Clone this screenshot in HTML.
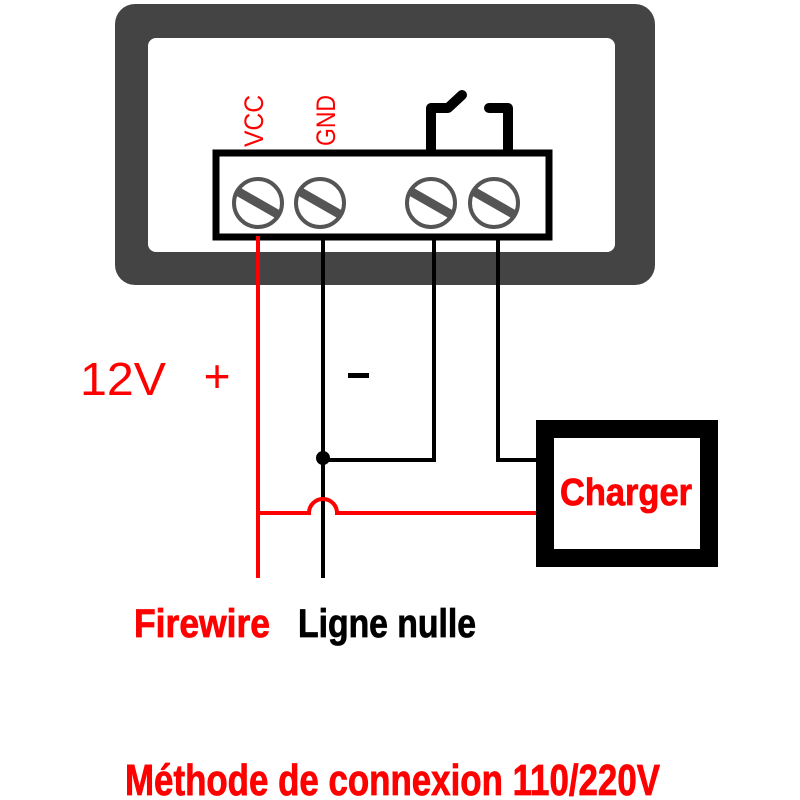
<!DOCTYPE html>
<html><head><meta charset="utf-8"><style>
html,body{margin:0;padding:0;background:#fff;}
svg{display:block;}
.n{font-family:"Liberation Sans Narrow","Liberation Sans",sans-serif;font-weight:bold;stroke-width:0.8;}
</style></head><body>
<svg width="800" height="800" viewBox="0 0 800 800" xmlns="http://www.w3.org/2000/svg">
<rect x="0" y="0" width="800" height="800" fill="#fff"/>
<rect x="115" y="4" width="540" height="281" rx="20" fill="#444"/>
<rect x="148" y="38" width="467" height="214" rx="8" fill="#fff"/>
<path d="M431,154 V108 H448 L462,95" fill="none" stroke="#000" stroke-width="10" stroke-linecap="round" stroke-linejoin="round"/>
<path d="M508,154 V108 H489" fill="none" stroke="#000" stroke-width="10" stroke-linecap="round" stroke-linejoin="round"/>
<rect x="216" y="153" width="333" height="84" fill="#fff" stroke="#000" stroke-width="7"/>
<g fill="none" stroke="#555">
<g stroke-width="4"><circle cx="258" cy="203" r="24"/><circle cx="320" cy="203" r="24"/><circle cx="431" cy="203" r="24"/><circle cx="494" cy="203" r="24"/></g>
<g stroke-width="9"><line x1="237" y1="191" x2="279" y2="215"/><line x1="299" y1="191" x2="341" y2="215"/><line x1="410" y1="191" x2="452" y2="215"/><line x1="473" y1="191" x2="515" y2="215"/></g>
</g>
<text transform="translate(263,147) rotate(-90)" font-family="Liberation Sans,sans-serif" font-size="27" fill="#f00" textLength="52" lengthAdjust="spacingAndGlyphs">VCC</text>
<text transform="translate(335,146) rotate(-90)" font-family="Liberation Sans,sans-serif" font-size="27" fill="#f00" textLength="51" lengthAdjust="spacingAndGlyphs">GND</text>
<line x1="258" y1="236" x2="258" y2="578" stroke="#f00" stroke-width="4"/>
<line x1="323" y1="236" x2="323" y2="578" stroke="#000" stroke-width="4"/>
<path d="M434,236 V460 H323" fill="none" stroke="#000" stroke-width="4"/>
<path d="M498,236 V460 H540" fill="none" stroke="#000" stroke-width="4"/>
<circle cx="323" cy="458" r="7" fill="#000"/>
<path d="M258,513 H309 A14,14 0 0 1 337,513 H540" fill="none" stroke="#f00" stroke-width="4"/>
<rect x="545" y="429" width="164" height="129" fill="#fff" stroke="#000" stroke-width="18"/>
<text x="626" y="505" text-anchor="middle" class="n" font-size="38" fill="#f00" stroke="#f00" textLength="132" lengthAdjust="spacingAndGlyphs">Charger</text>
<text x="80" y="395" font-family="Liberation Sans,sans-serif" font-size="46" fill="#f00" textLength="86" lengthAdjust="spacingAndGlyphs">12V</text>
<text x="217" y="380" text-anchor="middle" dominant-baseline="middle" font-family="Liberation Sans,sans-serif" font-size="46" fill="#f00">+</text>
<rect x="348" y="373" width="21" height="5" fill="#000"/>
<text x="134" y="637" class="n" font-size="40" fill="#f00" stroke="#f00" textLength="136" lengthAdjust="spacingAndGlyphs">Firewire</text>
<text x="298" y="637" class="n" font-size="40" fill="#000" stroke="#000" textLength="178" lengthAdjust="spacingAndGlyphs">Ligne nulle</text>
<text x="125" y="795" class="n" font-size="44" fill="#f00" stroke="#f00" textLength="535" lengthAdjust="spacingAndGlyphs">Méthode de connexion 110/220V</text>
</svg>
</body></html>
